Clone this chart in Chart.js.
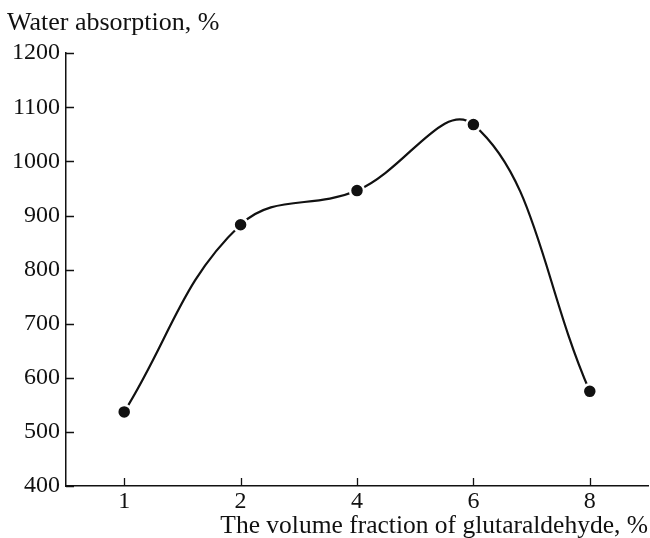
<!DOCTYPE html>
<html>
<head>
<meta charset="utf-8">
<script src="https://cdn.jsdelivr.net/npm/chart.js@4"></script>
<style>
  html, body { margin: 0; padding: 0; background: #fff; }
  #wrap { width: 650px; height: 538px; position: relative; }
</style>
</head>
<body>
<div id="wrap"><canvas id="chart"></canvas></div>
<script>
// ── Data ─────────────────────────────────────────────────────
const fractions  = ['1', '2', '4', '6', '8'];
const absorption = [537, 883, 946, 1068, 575];
const yTicks     = [400, 500, 600, 700, 800, 900, 1000, 1100, 1200];

const FONT = 'Liberation Serif, Times New Roman, serif';
const INK  = '#111';

// inward tick marks on both axes
const inwardTicks = {
  id: 'inwardTicks',
  afterDraw(chart) {
    const { ctx, chartArea: a, scales: { x, y } } = chart;
    ctx.save();
    ctx.strokeStyle = INK;
    ctx.lineWidth = 1.3;
    ctx.beginPath();
    yTicks.forEach(v => {
      const py = Math.round(y.getPixelForValue(v)) + 0.5;
      ctx.moveTo(a.left, py);
      ctx.lineTo(a.left + 8, py);
    });
    fractions.forEach((_, i) => {
      const px = Math.round(x.getPixelForValue(i)) + 0.5;
      ctx.moveTo(px, a.bottom);
      ctx.lineTo(px, a.bottom - 8);
    });
    ctx.stroke();
    ctx.restore();
  }
};

new Chart(document.getElementById('chart'), {
  type: 'line',
  data: {
    labels: fractions,
    datasets: [{
      data: absorption,
      borderColor: INK,
      borderWidth: 2.2,
      tension: 0.4,
      pointRadius: 7,
      pointBackgroundColor: INK,
      pointBorderColor: '#fff',
      pointBorderWidth: 2.5,
      fill: false,
    }],
  },
  options: {
    responsive: true,
    maintainAspectRatio: false,
    animation: false,
    layout: { autoPadding: false, padding: { left: 7, right: 2, top: 0, bottom: 0 } },
    plugins: {
      legend: { display: false },
      tooltip: { enabled: false },
      title: {
        display: true,
        text: 'Water absorption, %',
        align: 'start',
        color: INK,
        font: { family: FONT, size: 26, weight: 'normal' },
        padding: { top: 8, bottom: 14 },
      },
    },
    scales: {
      x: {
        offset: true,
        grid: { display: false, drawTicks: false },
        border: { display: true, color: INK, width: 1.5 },
        ticks: { color: INK, font: { family: FONT, size: 24 }, padding: 1 },
        afterFit: s => { s.height = 52; },
        title: {
          display: true,
          text: 'The volume fraction of glutaraldehyde, %',
          align: 'end',
          color: INK,
          font: { family: FONT, size: 25.5 },
          padding: { top: 0, bottom: -4 },
        },
      },
      y: {
        min: 400,
        max: 1200,
        grid: { display: false, drawTicks: false },
        border: { display: true, color: INK, width: 1.5 },
        afterBuildTicks: s => { s.ticks = yTicks.map(v => ({ value: v })); },
        afterFit: s => { s.width = 59; },
        ticks: { color: INK, font: { family: FONT, size: 24 }, padding: 6, callback: v => String(v) },
      },
    },
  },
  plugins: [inwardTicks],
});
</script>
</body>
</html>
